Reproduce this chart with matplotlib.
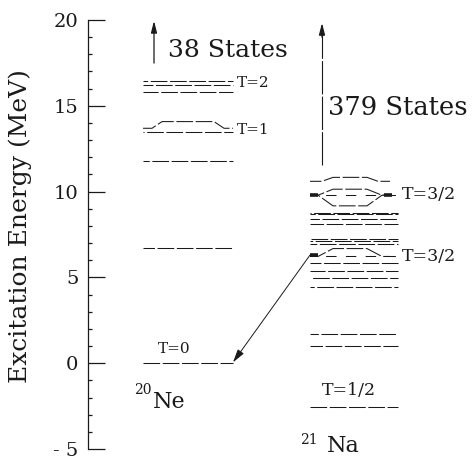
import matplotlib
matplotlib.use("Agg")
import matplotlib.pyplot as plt
from matplotlib.ticker import MultipleLocator, FixedLocator, FixedFormatter

plt.rcParams['font.family'] = ['DejaVu Serif']

# ---------------- data (MeV) ----------------
ne_levels = [0.0, 6.72, 11.8, 13.5, 15.82, 16.2, 16.43]
ne_t1_level = 13.69          # displaced T=1 level line
ne_t1_bump = 14.08
ne_t2_level = 16.30
ne_states_above = "38 States"

na_levels = [-2.57, 0.98, 1.72, 4.46, 4.94, 5.39, 5.83, 6.93, 7.13, 7.26,
             8.11, 8.38, 8.67, 8.77]
na_t32_low = 6.22            # lower T=3/2 analog state
na_t32_low_bump = 6.68
na_t32_high = 9.79           # upper T=3/2 state
na_t32_high_up = 10.14
na_t32_high_down = 9.17
na_top_level = 10.60
na_top_bump = 10.83
na_states_above = "379 States"

ytick_values = [-5, 0, 5, 10, 15, 20]
ytick_labels = ['- 5', '0', '5', '10', '15', '20']

# ---------------- layout ----------------
W, H = 473, 459
fig = plt.figure(figsize=(W / 100, H / 100), dpi=100)
ax = fig.add_axes([88 / W, 10 / H, (W - 88) / W, 429 / H])
ax.set_xlim(88, W)
ax.set_ylim(-5, 20)

ink = '#1a1a1a'
lw = 0.75

NE_X0, NE_X1 = 143, 233
NA_X0, NA_X1 = 310, 398


def level(e, x0, x1, off=0, ls=None):
    ax.plot([x0, x1], [e, e], color=ink, lw=lw,
            linestyle=ls if ls else (off, (16, 2.5)), solid_capstyle='butt')


def bumped(e, e_mid, x0, x1, a, b, off=0):
    xs = [x0, x0 + a, x0 + b, x1 - b, x1 - a, x1]
    ys = [e, e, e_mid, e_mid, e, e]
    ax.plot(xs, ys, color=ink, lw=lw, linestyle=(off, (16, 2.5)))


# Ne levels
for i, e in enumerate(ne_levels):
    level(e, NE_X0, NE_X1, off=i * 5)
bumped(ne_t1_level, ne_t1_bump, NE_X0, NE_X1, 9, 19, off=3)

# Na levels
for i, e in enumerate(na_levels):
    level(e, NA_X0, NA_X1, off=i * 4)
# lower T=3/2
level(na_t32_low, NA_X0, NA_X1, ls=(4, (10, 9)))
bumped(na_t32_low, na_t32_low_bump, NA_X0, NA_X1 - 8, 8, 23, off=0)
ax.plot([NA_X0, NA_X0 + 8], [na_t32_low + 0.08] * 2, color=ink, lw=2.6,
        solid_capstyle='butt')
# upper T=3/2 group
level(na_t32_high, NA_X0, NA_X1, ls=(4, (10, 9)))
bumped(na_t32_high, na_t32_high_up, NA_X0, NA_X1 - 8, 8, 23, off=2)
bumped(na_t32_high, na_t32_high_down, NA_X0, NA_X1 - 8, 8, 23, off=6)
ax.plot([NA_X0, NA_X0 + 8], [na_t32_high] * 2, color=ink, lw=2.6,
        solid_capstyle='butt')
ax.plot([NA_X1 - 14, NA_X1 - 6], [na_t32_high] * 2, color=ink, lw=2.6,
        solid_capstyle='butt')
bumped(na_top_level, na_top_bump, NA_X0, NA_X1 - 8, 12, 23, off=5)

# arrows for states above
ax.annotate('', xy=(154, 19.95), xytext=(154, 17.49),
            arrowprops=dict(arrowstyle='-|>,head_length=0.7,head_width=0.18',
                            color=ink, lw=0.9, shrinkA=0, shrinkB=0),
            annotation_clip=False)
ax.plot([322, 322], [11.55, 19.2], color=ink, lw=0.8, linestyle=(0, (30, 2)))
ax.annotate('', xy=(322, 19.83), xytext=(322, 19.0),
            arrowprops=dict(arrowstyle='-|>,head_length=0.7,head_width=0.18',
                            color=ink, lw=0.9, shrinkA=0, shrinkB=0),
            annotation_clip=False)

# decay arrow
ax.annotate('', xy=(233, 0.05), xytext=(NA_X0, na_t32_low + 0.08),
            arrowprops=dict(arrowstyle='-|>,head_length=0.8,head_width=0.22',
                            color=ink, lw=0.7, shrinkA=0, shrinkB=0))

# texts
ax.text(168, 17.84, ne_states_above, fontsize=18, va='baseline', ha='left', color=ink)
ax.text(328, 14.46, na_states_above, fontsize=18.5, va='baseline', ha='left', color=ink)
ax.text(237, ne_t2_level, 'T=2', fontsize=11, va='center', ha='left', color=ink)
ax.text(237, 13.59, 'T=1', fontsize=11, va='center', ha='left', color=ink)
ax.text(174, 0.85, 'T=0', fontsize=11, va='center', ha='center', color=ink)
ax.text(402, 9.86, 'T=3/2', fontsize=12.5, va='center', ha='left', color=ink)
ax.text(402, 6.19, 'T=3/2', fontsize=12.5, va='center', ha='left', color=ink)
ax.text(349, -1.62, 'T=1/2', fontsize=12.5, va='center', ha='center', color=ink)
ax.text(153, -2.61, 'Ne', fontsize=16, va='baseline', ha='left', color=ink, clip_on=False)
ax.text(152, -1.57, '20', fontsize=10, va='center', ha='right', color=ink, clip_on=False)
ax.text(327, -5.17, 'Na', fontsize=16, va='baseline', ha='left', color=ink, clip_on=False)
ax.text(318, -4.47, '21', fontsize=10, va='center', ha='right', color=ink, clip_on=False)

# axes styling
for s in ['top', 'right', 'bottom']:
    ax.spines[s].set_visible(False)
ax.spines['left'].set_color(ink)
ax.spines['left'].set_linewidth(0.9)
ax.set_xticks([])
ax.yaxis.set_major_locator(FixedLocator(ytick_values))
ax.yaxis.set_major_formatter(FixedFormatter(ytick_labels))
ax.yaxis.set_minor_locator(MultipleLocator(1))
ax.tick_params(axis='y', which='major', direction='in', length=12.5, width=0.9,
               pad=7, labelsize=14, colors=ink)
ax.tick_params(axis='y', which='minor', direction='in', length=3, width=0.9, colors=ink)

fig.text(20 / W, 1 - 226 / H, 'Excitation Energy (MeV)', rotation=90,
         ha='center', va='center', fontsize=18, color=ink)

fig.savefig('out.png', dpi=100)
